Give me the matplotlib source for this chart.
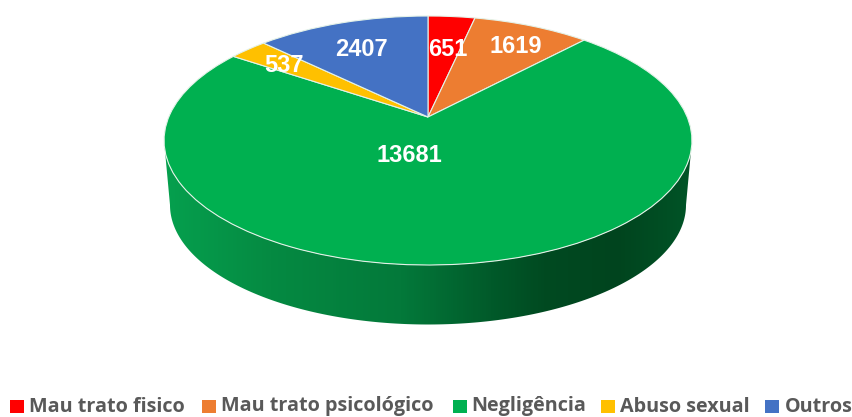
import numpy as np
import matplotlib
matplotlib.use("Agg")
import matplotlib.pyplot as plt
from matplotlib.transforms import Transform
from matplotlib.patches import Polygon, Rectangle
from matplotlib.colors import LinearSegmentedColormap

categories = ["Mau trato fisico", "Mau trato psicológico", "Negligência", "Abuso sexual", "Outros"]
values = [651, 1619, 13681, 537, 2407]
colors = ["#FF0000", "#ED7D31", "#00B050", "#FFC000", "#4472C4"]

W, H = 853, 417
APEX_X, APEX_Y = 428, 117
K, A, B = 0.1888, 259.2, 120.06


class Perspective(Transform):
    input_dims = output_dims = 2
    is_separable = False
    has_inverse = False

    def transform_non_affine(self, xy):
        xy = np.asarray(xy, dtype=float)
        d = 1 + K * xy[:, 1]
        return np.column_stack((APEX_X + A * xy[:, 0] / d, APEX_Y - B * xy[:, 1] / d))


fig = plt.figure(figsize=(W / 100, H / 100), dpi=100, facecolor="white")
ax = fig.add_axes([0, 0, 1, 1])

wedges, _ = ax.pie(values, colors=colors, startangle=90, counterclock=False, radius=1,
                   wedgeprops=dict(edgecolor="#E4F2E8", linewidth=0.8))
ax.set_aspect("auto")
ax.set_xlim(0, W)
ax.set_ylim(H, 0)
ax.axis("off")
persp = Perspective()
for w in wedges:
    w.set_transform(persp + ax.transData)
    w.set_zorder(3)

# extruded front wall
t = np.linspace(0, 2 * np.pi, 721)
rim = persp.transform_non_affine(np.column_stack((np.cos(t), np.sin(t))))
rim = rim[rim[:, 1] >= 140.5]
rim = rim[np.argsort(rim[:, 0])]
s = np.linspace(np.pi, 0, 361)
BOT_CX, BOT_CY, BOT_RX, BOT_RY = 428, 205, 258, 119.5
bottom = np.column_stack((BOT_CX + BOT_RX * np.cos(s), BOT_CY + BOT_RY * np.sin(s)))
outline = np.vstack((rim, bottom[::-1]))
wall = Polygon(outline, closed=True, facecolor="none", edgecolor="none", transform=ax.transData)
ax.add_patch(wall)
cmap = LinearSegmentedColormap.from_list("wall", [
    (0.00, "#06A04E"), (0.20, "#058A42"), (0.45, "#03793A"), (0.62, "#015A2A"),
    (0.72, "#004A21"), (0.86, "#00441E"), (1.00, "#005427")])
im = ax.imshow(np.linspace(0, 1, 530)[None, :], cmap=cmap, aspect="auto",
               extent=(164, 692, 340, 130), zorder=2)
im.set_clip_path(wall)
ax.set_xlim(0, W)
ax.set_ylim(H, 0)

label_pos = [(448, 49), (516, 46), (409, 155), (284, 65), (361, 49)]
for v, (x, y) in zip(values, label_pos):
    ax.text(x, y, str(v), color="white", fontsize=17, fontweight="bold",
            family="Liberation Sans", ha="center", va="center", zorder=5)

legend_sq_x = [10, 202, 453, 601, 765]
legend_tx_x = [29, 221, 471, 620, 785]
for name, c, sx, tx in zip(categories, colors, legend_sq_x, legend_tx_x):
    ax.add_patch(Rectangle((sx, 400), 14, 13, facecolor=c, edgecolor="none", zorder=4))
    ax.text(tx, 411.5, name, color="#595959", fontsize=14.2, fontweight="bold",
            family="Open Sans", ha="left", va="baseline", zorder=5)

fig.savefig("out.png", dpi=100, facecolor="white")
